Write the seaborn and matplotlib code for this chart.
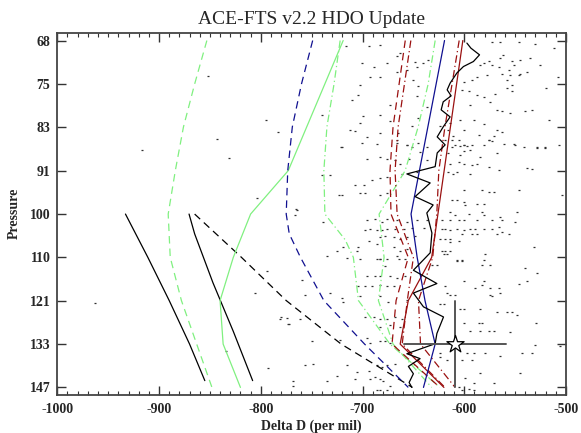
import numpy as np
import pandas as pd
import matplotlib
matplotlib.use("Agg")
import matplotlib.pyplot as plt
import seaborn as sns
from matplotlib.ticker import FixedLocator, MultipleLocator, NullLocator

# ---------------- data ----------------
tick_labels = ["68", "75", "83", "91", "100", "110", "121", "133", "147"]
levels = [68.0, 74.9, 82.4, 90.8, 100.0, 110.1, 121.2, 133.5, 147.0]

black_a_dd = [-933, -911, -890, -870, -855]
black_a_p = [100.0, 110.1, 121.2, 133.5, 144.8]
black_b_dd = [-870.5, -865, -847, -827, -808]
black_b_p = [100.0, 104.5, 116.5, 129.8, 144.8]
black_dash_dd = [-865, -819, -775, -721, -651]
black_dash_p = [100.0, 110.1, 121.2, 133.5, 147.0]
green_dash_dd = [-853, -865, -876, -884, -891, -889, -878, -863, -848]
green_dash_p = levels
green_solid_dd = [-719, -773, -810, -827, -840, -837, -820]
green_solid_p = [68.0, 90.8, 100.0, 110.1, 121.2, 133.5, 147.0]
blue_dash_dd = [-749, -760, -769, -773.5, -775, -772, -761, -738, -698, -655]
blue_dash_p = [68.0, 74.9, 82.4, 90.8, 100.0, 104.5, 110.1, 121.2, 133.5, 147.0]
green_dd1_dd = [-722, -728, -735, -738, -737, -717, -709, -704, -673, -624]
green_dd1_p = [68.0, 74.9, 82.4, 90.8, 100.0, 105.9, 110.1, 121.2, 133.5, 147.0]
green_dd2_dd = [-628.6, -635.5, -645.3, -658.1, -683.7, -678.8, -684.4, -670, -632]
green_dd2_p = levels
red_solid_dd = [-601.4, -632, -655, -663, -620]
red_solid_p = [68.0, 110.1, 121.2, 133.5, 147.0]
red_dash_dd = [-658, -670, -673, -672, -655, -667, -671, -624]
red_dash_p = [68.0, 82.4, 90.8, 100.0, 110.1, 121.2, 133.5, 147.0]
red_dd_dd = [-652.5, -665, -668, -666, -650, -656, -661, -619]
red_dd_p = [68.0, 82.4, 90.8, 100.0, 110.1, 121.2, 133.5, 147.0]
red_dd2_dd = [-605, -612, -619, -625, -627, -631, -645, -643, -609]
red_dd2_p = levels
blue_solid_dd = [-619.4, -652.3, -646.3, -638.6, -628.6, -640.1]
blue_solid_p = [68.0, 100.0, 110.1, 121.2, 133.5, 147.0]

wiggle_dd = [-597.4, -593.5, -585, -591, -600.8, -607.3, -613.9, -616.8, -612.9,
             -620.7, -622.7, -613.9, -620.7, -626.6, -618.8, -626.6, -628.6,
             -656.4, -633.5, -648.3, -630.6, -636.8, -631.8, -633.5, -650,
             -626.9, -650, -640.1, -620.4, -626.9, -628.6, -656.4, -643.4,
             -654.9, -650, -654.2, -651.5]
wiggle_p = [68.39, 69.16, 70.2, 71.25, 72.05, 73.1, 74.76, 75.88, 76.9, 77.93,
            79.33, 80.58, 82.39, 84.24, 85.75, 87.3, 90.0, 91.47, 93.32, 96.2,
            98.0, 99.76, 104.3, 109.0, 113.3, 116.7, 119.2, 122.9, 125.7, 130.4,
            133.4, 136.4, 137.9, 140.3, 142.6, 145.4, 147.0]

star_dd = [-609]
star_p = [133.5]
star_dd_err = [-659, -559]
star_p_err = [121.2, 147.0]

# individual measurements (delta D, pressure)
dots_left = [(-962.8, 121.9), (-851.5, 73.5), (-917, 86.7), (-842.7, 84.6), (-830.9, 88.3),
             (-794.8, 81.1), (-783.3, 83.3), (-803.3, 96.4), (-765.6, 98.9), (-794, 113.5),
             (-805.6, 119.1), (-780, 125.7), (-773.8, 125.9), (-772.5, 127.6), (-834, 135.5),
             (-792.5, 140.9), (-768, 145)]
dots_top_mid = [(-716.4, 68.9), (-694.1, 68.9), (-682.6, 68.65), (-666.2, 70.35), (-663, 69.9),
                (-648.2, 71.25), (-646.6, 72.05), (-640.1, 71.5), (-635.2, 70.98), (-700.6, 71.5),
                (-676.1, 71.5), (-689.2, 72.05), (-682.6, 73.67), (-692.5, 73.67), (-702.3, 75.04),
                (-704, 76.73), (-710.5, 77.6), (-740, 80.2), (-699.1, 80.5), (-682.6, 80.2),
                (-672.8, 78.5), (-666.2, 72.86), (-656.4, 72.6), (-649.9, 74.2), (-645, 75.3),
                (-646.6, 77.0), (-636.7, 78.75), (-645, 80.8), (-651.5, 82.3), (-712.1, 82.9),
                (-707.2, 83.2), (-682.6, 83.5), (-672.8, 81.4), (-664.7, 83.5), (-666.2, 84.8),
                (-656.4, 85.75), (-720.3, 86.1), (-695.7, 84.2), (-702.3, 81.7)]
dots_top_right = [(-572.9, 68.15), (-564.7, 68.3), (-546.6, 68.15), (-562, 70.2), (-564.7, 70.7),
                  (-553.2, 71.2), (-576.1, 71.2), (-581, 71.5), (-584.3, 71.8), (-572.9, 71.8),
                  (-566.3, 72.1), (-556.5, 72.6), (-551.6, 71.8), (-545, 71), (-535.2, 70.7),
                  (-525.3, 71.8), (-538.4, 73), (-545, 73.2), (-554.8, 73.4), (-563, 73.2),
                  (-558.1, 74.2), (-553.2, 75), (-546.6, 73.4), (-577.8, 73.4), (-587.6, 73.7),
                  (-592.5, 74.2), (-600.7, 74.5), (-602.4, 75.9), (-595.8, 76.1), (-587.6, 76.8),
                  (-581, 77.1), (-569.6, 76.5), (-567.9, 79.3), (-563, 79.6), (-554.8, 79.9),
                  (-540.1, 79.6), (-517.1, 81.1), (-533.5, 79.3), (-558.1, 75.5), (-553.2, 76.1),
                  (-574.5, 77.9), (-594.2, 78.5), (-613.8, 81.6), (-604, 81.1), (-590.9, 81.1),
                  (-581, 81.9), (-567.9, 82.9), (-563, 83.4), (-571.2, 84.1), (-576.1, 84.8),
                  (-586, 83.9), (-600.7, 82.9), (-610.6, 84.1), (-618.8, 84.8), (-615.5, 82.9),
                  (-623.7, 82.3), (-541.7, 86.2), (-528.6, 86.3), (-520.4, 86.3), (-551.6, 85.5),
                  (-561.4, 85.5), (-600.7, 85.8), (-612.2, 86.2), (-512, 69.2), (-530, 68.6),
                  (-520, 75.5), (-508, 73.8)]
dots_mid_right = [(-612.2, 84.9), (-605.6, 84.9), (-608.9, 85.8), (-604, 85.9), (-600.7, 85.8),
                  (-597.4, 85.9), (-592.5, 85.8), (-594.2, 86.7), (-581, 85.8), (-576.1, 84.9),
                  (-572.9, 85.1), (-549.9, 85.8), (-528.6, 86.1), (-520.4, 86.1), (-507.3, 85.8),
                  (-615.5, 87.4), (-600.7, 87), (-604, 87.7), (-584.3, 88.0), (-567.9, 87.4),
                  (-613.8, 89.4), (-605.6, 89.1), (-600.7, 89.4), (-592.5, 89.7), (-587.6, 89.4),
                  (-576.1, 90.0), (-566.3, 90.7), (-538.4, 90.2), (-533.5, 90.4), (-615.5, 91.0),
                  (-610.6, 91.4), (-607.3, 91.0), (-594.2, 91.4), (-600.7, 94.8), (-582.7, 94.8),
                  (-576.1, 95.2), (-571.2, 95.2), (-546.6, 94.7), (-504, 95.9), (-612.2, 97.0),
                  (-607.3, 97.0), (-600.7, 97.4), (-599.1, 98.1), (-587.6, 97.7), (-581, 97.7),
                  (-613.8, 99.6), (-608.9, 100.3), (-595.8, 99.9), (-582.7, 99.6), (-581, 100.3),
                  (-564.7, 100.7), (-563, 101.4), (-548.3, 99.6), (-549.9, 101.7), (-622, 101.4),
                  (-613.8, 101.4), (-605.6, 101.4), (-600.7, 101.4), (-587.6, 101.4), (-572.9, 101.4),
                  (-622, 103.3), (-618.8, 103.3), (-613.8, 103.7), (-607.3, 103.3), (-600.7, 103.7),
                  (-594.2, 103.3), (-589.2, 103.3), (-581, 103.3), (-572.9, 103.3), (-566.3, 103.0),
                  (-563, 104.1), (-556.5, 104.5), (-602.4, 104.5), (-592.5, 104.5), (-587.6, 104.5),
                  (-618.8, 105.8), (-613.8, 105.8), (-623.7, 105.8), (-605.6, 106.1), (-567.9, 104.5),
                  (-613.8, 106.5), (-622, 108.5), (-618.8, 108.5), (-613.8, 108.5), (-531.9, 107.7),
                  (-607.3, 110.8), (-602.4, 110.8), (-581, 110.8)]
dots_mid_left = [(-721, 86.1), (-700.7, 85.4), (-685.9, 85.5), (-666.3, 85.4), (-656.4, 85.8),
                 (-651.5, 86.1), (-645, 85.4), (-636.8, 86.1), (-643.3, 87.1), (-695.8, 88.4),
                 (-682.7, 88.0), (-676.1, 88.4), (-667.9, 88.7), (-663, 89.4), (-654.8, 88.4),
                 (-636.8, 88.7), (-740, 91.7), (-731.8, 91.7), (-707.2, 93.8), (-699, 93.8),
                 (-690.9, 92.7), (-682.7, 92.4), (-676.1, 92.0), (-661.4, 91.4), (-646.6, 91.0),
                 (-723.6, 95.9), (-720.4, 95.9), (-702.3, 95.5), (-697.4, 95.5), (-682.7, 95.9),
                 (-676.1, 95.5), (-764.6, 99.2), (-766.2, 100.3), (-738.4, 101.8), (-695.8, 101.4),
                 (-687.6, 101.0), (-681, 101.8), (-676.1, 101.0), (-666.3, 101.4), (-656.4, 101.8),
                 (-646.6, 101.4), (-636.8, 101.4), (-697.4, 103.7), (-692.5, 103.3), (-685.9, 103.7),
                 (-681, 103.7), (-676.1, 103.3), (-667.9, 103.3), (-659.7, 103.3), (-651.5, 103.2),
                 (-640, 103.2), (-682.7, 105.3), (-677.7, 104.9), (-669.5, 105.3), (-663, 105.7),
                 (-656.4, 105.3), (-648.2, 104.9), (-694.1, 106.1), (-685.9, 106.9), (-704, 107.7),
                 (-705.6, 108.5), (-718.7, 107.7), (-725.3, 108.5), (-669.5, 107.7), (-663, 108.5),
                 (-656.4, 108.1), (-715.4, 110.2), (-702.3, 110.6), (-682.7, 110.6), (-676.1, 110.6),
                 (-664.6, 110.6), (-658.1, 110.6)]
dots_low_left = [(-735.1, 109.8), (-685.9, 110.6), (-682.7, 110.6), (-666.3, 109.8), (-677.7, 112.2),
                 (-695.8, 114.8), (-687.6, 114.8), (-682.7, 114.8), (-672.8, 114.8), (-666.3, 115.2),
                 (-658.1, 114.8), (-759.7, 115.7), (-704, 117.4), (-697.4, 117.4), (-690.9, 117.4),
                 (-682.7, 117.0), (-676.1, 117.4), (-669.5, 117.4), (-756.4, 119.7), (-731.8, 119.2),
                 (-720.4, 120.6), (-718.7, 121.5), (-702.3, 120.1), (-682.7, 120.1), (-674.5, 121.5),
                 (-656.4, 121.0), (-761.3, 126.2), (-772.8, 127.7), (-781, 126.2), (-697.4, 125.7),
                 (-689.2, 125.7), (-682.7, 126.2), (-676.1, 126.2), (-667.9, 125.7), (-661.4, 126.2),
                 (-682.7, 128.6), (-672.8, 128.1), (-663, 128.6), (-749.9, 132.7), (-722, 132.2),
                 (-695.8, 131.6), (-692.5, 133.2), (-682.7, 132.7), (-677.7, 132.7), (-672.8, 133.2),
                 (-756.4, 139.9), (-748.2, 139.4), (-715.4, 139.9), (-685.9, 139.9), (-681, 140.5),
                 (-676.1, 139.9), (-667.9, 139.4), (-725.3, 143.2), (-735.1, 144.8), (-767.9, 146.5),
                 (-707.2, 144.3), (-692.5, 144.3), (-687.6, 143.7), (-682.7, 144.3), (-679.4, 144.8),
                 (-685.9, 147.7), (-682.7, 147.7), (-676.1, 147.7), (-672.8, 146.5), (-694.1, 141.6),
                 (-705.6, 142.1)]
dots_low_right = [(-620.4, 109.2), (-617.1, 109.2), (-579.4, 109.2), (-607.3, 110.9), (-602.4, 110.9),
                  (-582.7, 112.0), (-574.5, 112.0), (-627, 112.0), (-631.9, 112.0), (-540.1, 112.8),
                  (-528.6, 114.1), (-600.7, 116.0), (-581, 116.0), (-546.6, 116.9), (-538.4, 116.0),
                  (-618.8, 117.4), (-582.7, 117.0), (-589.2, 117.9), (-574.5, 117.9), (-566.3, 117.9),
                  (-617.1, 119.2), (-613.8, 119.7), (-608.9, 119.7), (-574.5, 119.7), (-572.9, 120.1),
                  (-564.7, 119.2), (-623.7, 122.0), (-620.4, 122.0), (-604, 123.4), (-600.7, 123.4),
                  (-584.3, 123.4), (-567.9, 124.3), (-558.1, 124.3), (-548.3, 125.2), (-553.2, 124.3),
                  (-600.7, 127.4), (-586, 127.4), (-582.7, 127.4), (-529.3, 127.4), (-594.2, 129.6),
                  (-584.3, 129.6), (-576.1, 129.6), (-571.2, 129.6), (-554.8, 130.1), (-530.2, 133.7),
                  (-505.7, 134.0), (-597.4, 136.1), (-590.9, 136.1), (-579.4, 136.1), (-564.7, 137.2),
                  (-543.4, 136.1), (-533.5, 136.1), (-623.7, 136.1), (-602.4, 138.2), (-592.5, 138.2),
                  (-584.3, 142.3), (-545, 142.3), (-599.1, 144.0), (-590.9, 145.7), (-571.2, 145.7),
                  (-605.6, 146.8), (-602.4, 147.7), (-595.8, 147.4), (-590.9, 147.7), (-623.7, 137.4),
                  (-617.1, 138.2)]

all_dots = (dots_left + dots_top_mid + dots_top_right + dots_mid_right
            + dots_mid_left + dots_low_left + dots_low_right)
dot_df = pd.DataFrame(all_dots, columns=["dd", "p"])

# ---------------- style ----------------
sns.set_theme(style="ticks")
plt.rcParams['font.family'] = ['Liberation Serif', 'DejaVu Serif']
plt.rcParams['axes.unicode_minus'] = False

LGREEN = '#80f080'
NAVY = '#101090'
DRED = '#9a1010'

fig = plt.figure(figsize=(5.81, 4.33), dpi=100)
ax = fig.add_axes([57.3 / 581, 38 / 433, (566 - 57.3) / 581, (395 - 32.5) / 433])
ax.set_yscale('log')

DASH = (6, 4)
DASHDOT = (6, 2.5, 1, 2.5)


def line(xs, ps, color, dashes=None, lw=0.9):
    sns.lineplot(x=xs, y=ps, sort=False, estimator=None, color=color, lw=lw, ax=ax)
    ln = ax.lines[-1]
    if dashes is not None:
        ln.set_dashes(dashes)
    return ln


sns.scatterplot(data=dot_df, x="dd", y="p", marker='_', s=2.5, linewidth=0.9,
                color='#303030', ax=ax, zorder=1)

line(black_a_dd, black_a_p, 'black')
line(black_b_dd, black_b_p, 'black')
line(black_dash_dd, black_dash_p, 'black', DASH)
line(green_dash_dd, green_dash_p, LGREEN, DASH)
line(green_solid_dd, green_solid_p, LGREEN)
line(blue_dash_dd, blue_dash_p, NAVY, DASH)
line(green_dd1_dd, green_dd1_p, LGREEN, DASHDOT)
line(green_dd2_dd, green_dd2_p, LGREEN, DASHDOT)
line(red_dash_dd, red_dash_p, DRED, DASH)
line(red_dd_dd, red_dd_p, DRED, DASHDOT)
line(red_dd2_dd, red_dd2_p, DRED, DASHDOT)
line(red_solid_dd, red_solid_p, DRED)
line(blue_solid_dd, blue_solid_p, NAVY)
line(wiggle_dd, wiggle_p, 'black')

# star with error bars
ax.plot(star_dd_err, [star_p[0], star_p[0]], color='#555555', lw=1.4, zorder=4)
ax.plot([star_dd[0], star_dd[0]], star_p_err, color='#555555', lw=1.4, zorder=4)
sns.scatterplot(x=star_dd, y=star_p, marker='*', s=170, facecolor='white',
                edgecolor='black', linewidth=0.9, ax=ax, zorder=5)

# ---------------- axes ----------------
ax.set_xlim(-1000, -500)
ax.set_ylim(149.5, 66.8)
tick_pos = list(np.geomspace(68, 147, len(tick_labels)))
ax.yaxis.set_major_locator(FixedLocator(tick_pos))
ax.yaxis.set_minor_locator(NullLocator())
ax.set_yticklabels(tick_labels)
ax.xaxis.set_major_locator(MultipleLocator(100))
ax.xaxis.set_minor_locator(MultipleLocator(10))

for sp in ax.spines.values():
    sp.set_visible(True)
    sp.set_linewidth(1.3)
    sp.set_color('#444444')
ax.tick_params(axis='both', which='major', direction='in', top=True, right=True,
               length=6.5, width=1.0, color='#333333', labelsize=10, pad=5)
ax.tick_params(axis='x', which='minor', direction='in', top=True, bottom=True,
               length=3, width=0.8, color='#333333')
for lab in ax.get_xticklabels() + ax.get_yticklabels():
    lab.set_fontweight('bold')
ax.tick_params(axis='x', which='major', pad=6)

ax.set_xlabel('Delta D (per mil)', fontsize=10, fontweight='bold', labelpad=2)
ax.set_ylabel('Pressure', fontsize=10, fontweight='bold', labelpad=6)
ax.set_title('ACE-FTS v2.2 HDO Update', fontsize=14, pad=6)
ax.grid(False)

fig.savefig('out.png', dpi=100)
